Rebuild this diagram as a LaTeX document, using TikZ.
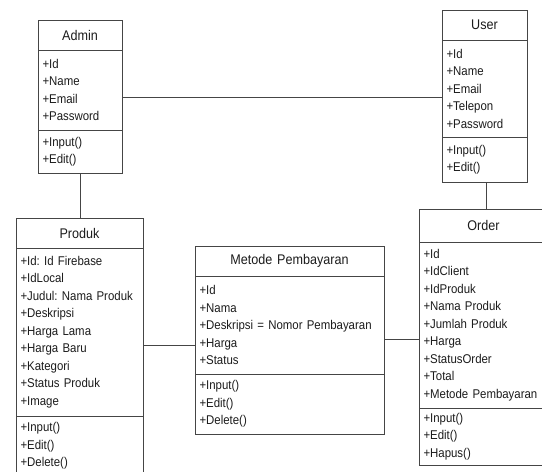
\documentclass[tikz,border=0pt]{standalone}
\usepackage{fontspec}
\setmainfont[FakeStretch=0.9]{Liberation Sans}
\usetikzlibrary{shapes}
\definecolor{umlline}{HTML}{454545}
\definecolor{umltext}{HTML}{1C1C1C}
\frenchspacing

\begin{document}
\begin{tikzpicture}[x=1pt,y=-1pt,
  head/.style={shape=rectangle,draw=umlline,fill=white,line width=1pt,outer sep=0pt,anchor=north west,align=center,inner xsep=4.5pt,inner ysep=2pt,text=umltext,font=\fontsize{14}{16}\selectfont},
  body/.style={shape=rectangle,draw=umlline,fill=white,line width=1pt,outer sep=0pt,anchor=north west,align=left,inner xsep=4.5pt,inner ysep=2pt,text=umltext,font=\fontsize{12.7}{17.5}\selectfont},
  link/.style={-,draw=umlline,line width=1pt}]
\useasboundingbox (0,0) rectangle (542,472);
\clip (0,0) rectangle (542,472);

\node[head,text width=75pt,minimum height=30pt] (admin) at (38,20) {Admin};
\node[body,text width=75pt,minimum height=80pt] (admin-a) at (admin.south west) {+Id\\+Name\\+Email\\+Password};
\node[body,text width=75pt,minimum height=43pt] (admin-m) at (admin-a.south west) {+Input()\\+Edit()};

\node[head,text width=76pt,minimum height=30pt] (user) at (442,10) {User};
\node[body,text width=76pt,minimum height=97pt] (user-a) at (user.south west) {+Id\\+Name\\+Email\\+Telepon\\+Password};
\node[body,text width=76pt,minimum height=45pt] (user-m) at (user-a.south west) {+Input()\\+Edit()};

\node[head,text width=118pt,minimum height=30pt] (produk) at (16,218) {Produk};
\node[body,text width=118pt,minimum height=168pt] (produk-a) at (produk.south west) {+Id: Id Firebase\\+IdLocal\\+Judul: Nama Produk\\+Deskripsi\\+Harga Lama\\+Harga Baru\\+Kategori\\+Status Produk\\+Image};
\node[body,text width=118pt,minimum height=60pt] (produk-m) at (produk-a.south west) {+Input()\\+Edit()\\+Delete()};

\node[head,text width=180pt,minimum height=30pt] (metode) at (195,246) {Metode Pembayaran};
\node[body,text width=180pt,minimum height=98pt] (metode-a) at (metode.south west) {+Id\\+Nama\\+Deskripsi = Nomor Pembayaran\\+Harga\\+Status};
\node[body,text width=180pt,minimum height=60pt] (metode-m) at (metode-a.south west) {+Input()\\+Edit()\\+Delete()};

\node[head,text width=120pt,minimum height=33pt] (order) at (419,209) {Order};
\node[body,text width=120pt,minimum height=166pt] (order-a) at (order.south west) {+Id\\+IdClient\\+IdProduk\\+Nama Produk\\+Jumlah Produk\\+Harga\\+StatusOrder\\+Total\\+Metode Pembayaran};
\node[body,text width=120pt,minimum height=57pt] (order-m) at (order-a.south west) {+Input()\\+Edit()\\+Hapus()};

\path [link] ([yshift=-7pt]admin-a.east) edge ([yshift=-7pt]admin-a.east -| user-a.west);
\path [link] (admin-m.south) edge (admin-m.south |- produk.north);
\path [link] ([xshift=1.5pt]user-m.south) edge ([xshift=1.5pt]user-m.south |- order.north);
\path [link] ([yshift=-13pt]produk-a.east) edge ([yshift=-13pt]produk-a.east -| metode-a.west);
\path [link] ([yshift=-14pt]metode-a.east) edge ([yshift=-14pt]metode-a.east -| order-a.west);
\end{tikzpicture}
\end{document}
